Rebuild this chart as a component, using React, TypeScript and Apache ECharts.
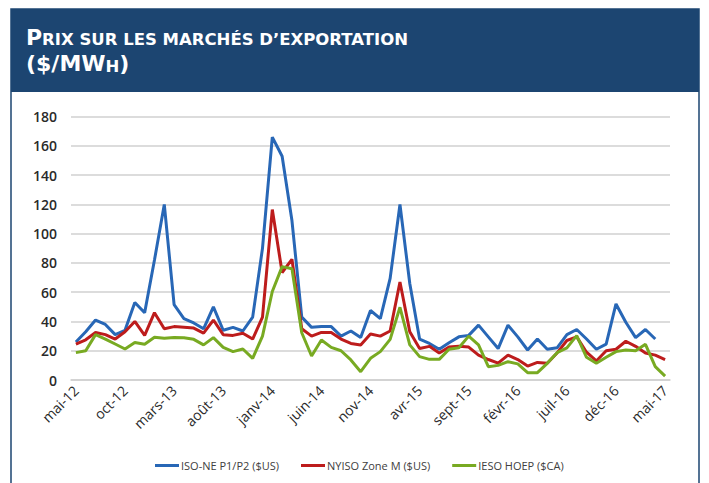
import React, { useEffect, useRef } from "react";
import * as echarts from "echarts";

const monthNames = ["janv", "févr", "mars", "avr", "mai", "juin", "juil", "août", "sept", "oct", "nov", "déc"];
const categories: string[] = [];
for (let k = 4; k <= 4 + 60; k++) {
  const m = k % 12;
  const y = 12 + Math.floor(k / 12);
  categories.push(`${monthNames[m]}-${y}`);
}

const isoNE: (number | null)[] = [
  26, 33, 41, 38, 31, 34, 53, 46, 82, 120,
  51.5, 42, 39, 35, 50, 34, 36, 33.5, 43, 90,
  166, 153, 109, 43, 36, 36.5, 36.5, 30, 33.5, 29,
  47.5, 42, 69.5, 120, 66, 28, 25, 21, 25.5, 29.5,
  30.5, 37.5, 29.5, 21.5, 37.5, 29.5, 20.5, 28, 21, 22,
  31, 34.5, 28, 21, 24.5, 52, 39.5, 29, 34.5, 28, null,
];

const nyiso: number[] = [
  24.5, 27.5, 32.5, 31, 28, 33, 40, 30.5, 46, 35,
  36.5, 36, 35.5, 32, 41, 31, 30.5, 32, 28, 43,
  116.5, 73.5, 82.5, 35, 30, 32.5, 32.5, 28, 25, 24,
  31.5, 30, 33.5, 67, 33, 21.5, 23, 18.5, 22.5, 23,
  22.5, 17, 14, 11.5, 17, 14, 9.5, 12, 11.5, 18.5,
  27, 29.5, 19, 13, 20, 21, 26.5, 23, 18.5, 17, 14,
];

const ieso: number[] = [
  18.7, 20, 31, 28, 24.6, 21.2, 25.7, 24.5, 29.2, 28.5,
  29, 28.9, 27.8, 24, 29, 22.3, 19.4, 21.2, 14.8, 30,
  60.5, 77.5, 76, 32.3, 16.4, 27.3, 22.3, 20, 13.7, 5.7,
  14.8, 19.4, 27.8, 49.7, 24, 16, 14.1, 14.1, 21, 22,
  30, 24, 9.1, 10, 12.5, 11, 5, 5, 11.4, 18.7,
  22, 30.3, 15.5, 11.4, 15.5, 19.4, 20.5, 20, 24.4, 9.1, 2.7,
];

const seriesNames = ["ISO-NE P1/P2 ($US)", "NYISO Zone M ($US)", "IESO HOEP ($CA)"];
const seriesColors = ["#2867b6", "#bd1c1c", "#78aa22"];
const titleLine1Big = "P";
const titleLine1Small = "RIX SUR LES MARCHÉS D’EXPORTATION";
const titleLine2Big = "($/MW";
const titleLine2Small = "H";
const titleLine2End = ")";

export default function App() {
  const ref = useRef<HTMLDivElement>(null);
  useEffect(() => {
    if (!ref.current) return;
    const chart = echarts.init(ref.current, null, { renderer: "svg" });
    const navy = "#1c4571";
    const sans = "'DejaVu Sans', 'Liberation Sans', sans-serif";
    const axisFont = "'Open Sans', 'Noto Sans', sans-serif";
    const rich = {
      b: { fontFamily: sans, fontWeight: "bold", fontSize: 22, color: "#ffffff", lineHeight: 24, verticalAlign: "bottom" },
      s: { fontFamily: sans, fontWeight: "bold", fontSize: 16.5, color: "#ffffff", lineHeight: 20, verticalAlign: "bottom" },
    };
    chart.setOption({
      animation: false,
      backgroundColor: "#ffffff",
      graphic: [
        {
          type: "rect",
          shape: { x: 11, y: 9, width: 688, height: 490 },
          style: { fill: "#ffffff", stroke: navy, lineWidth: 1.5 },
          z: -10,
        },
        {
          type: "rect",
          shape: { x: 11, y: 9, width: 688, height: 83 },
          style: { fill: navy },
          z: -5,
        },
      ],
      title: [
        {
          text: `{b|${titleLine1Big}}{s|${titleLine1Small}}`,
          left: 26,
          top: 24,
          padding: 0,
          textStyle: { rich },
        },
        {
          text: `{b|${titleLine2Big}}{s|${titleLine2Small}}{b|${titleLine2End}}`,
          left: 26,
          top: 50.5,
          padding: 0,
          textStyle: { rich },
        },
      ],
      legend: {
        left: 150,
        top: 455,
        icon: "rect",
        itemWidth: 24,
        itemHeight: 3,
        itemGap: 22,
        textStyle: { fontFamily: axisFont, fontSize: 11, color: "#404040", padding: [0, 0, 0, -3] },
        data: seriesNames,
      },
      grid: { left: 71, right: 39, top: 116.7, bottom: 103, containLabel: false },
      xAxis: {
        type: "category",
        data: categories,
        boundaryGap: true,
        axisLine: { show: true, lineStyle: { color: "#d0d0d0", width: 1.5 } },
        axisTick: { show: false },
        axisLabel: {
          interval: 4,
          rotate: 45,
          margin: 8,
          fontFamily: axisFont,
          fontSize: 14,
          fontWeight: 500,
          color: "#2a2a2a",
        },
      },
      yAxis: {
        type: "value",
        min: 0,
        max: 180,
        interval: 20,
        axisLine: { show: false },
        axisTick: { show: false },
        splitLine: { lineStyle: { color: "#d0d0d0", width: 1.5 } },
        axisLabel: { fontFamily: axisFont, fontSize: 14, fontWeight: 600, color: "#2a2a2a", margin: 14 },
      },
      series: [
        { name: seriesNames[0], type: "line", data: isoNE, symbol: "none", lineStyle: { width: 3, color: seriesColors[0] }, itemStyle: { color: seriesColors[0] }, z: 3 },
        { name: seriesNames[1], type: "line", data: nyiso, symbol: "none", lineStyle: { width: 3, color: seriesColors[1] }, itemStyle: { color: seriesColors[1] }, z: 4 },
        { name: seriesNames[2], type: "line", data: ieso, symbol: "none", lineStyle: { width: 3, color: seriesColors[2] }, itemStyle: { color: seriesColors[2] }, z: 5 },
      ],
    });
    return () => chart.dispose();
  }, []);
  return <div ref={ref} style={{ position: "absolute", left: 0, top: 0, width: 709, height: 483 }} />;
}
